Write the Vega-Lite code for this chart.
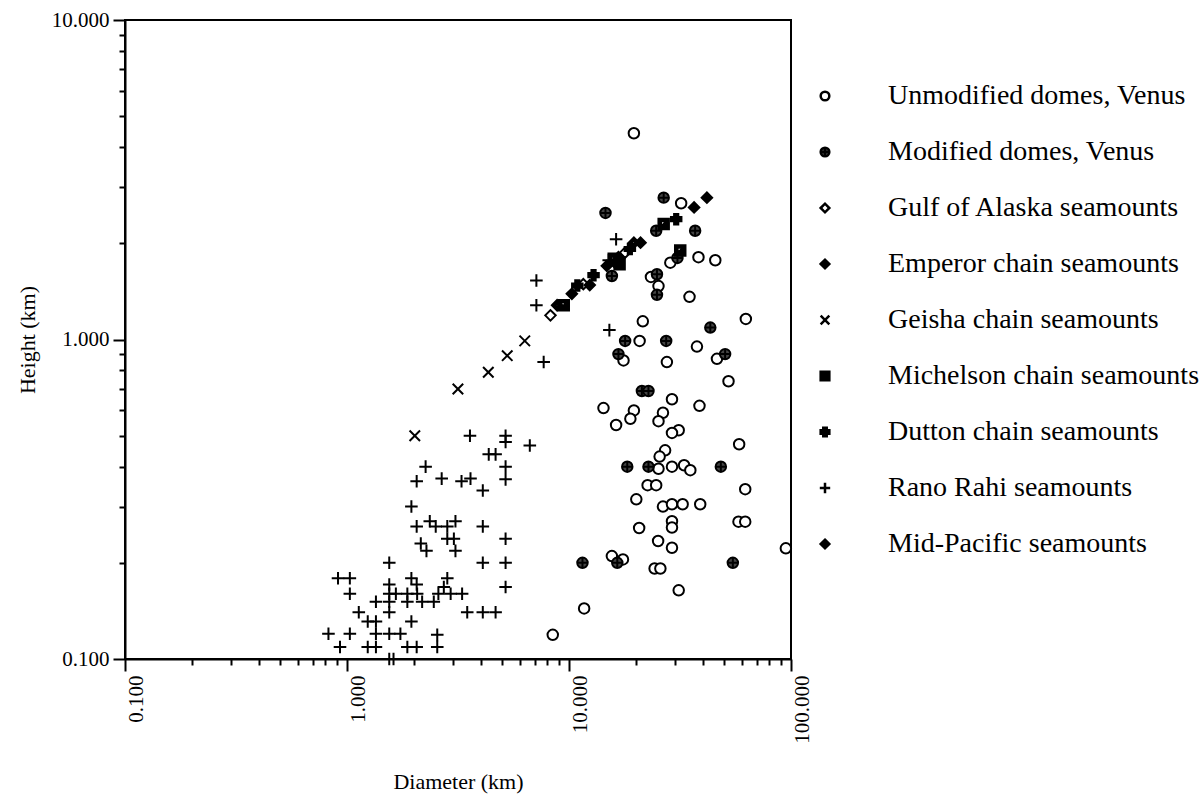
{
  "$schema": "https://vega.github.io/schema/vega-lite/v6.json",
  "width": 666,
  "height": 639,
  "autosize": "none",
  "padding": {"left": 125, "top": 20, "right": 412, "bottom": 142},
  "background": "white",
  "config": {
    "font": "Liberation Serif",
    "view": {"stroke": "black", "strokeWidth": 2},
    "axis": {
      "domainColor": "black", "domainWidth": 2, "tickColor": "black", "tickWidth": 2,
      "labelFont": "Liberation Serif", "labelFontSize": 21, "labelColor": "black",
      "titleFont": "Liberation Serif", "titleFontSize": 22, "titleFontWeight": "normal", "titleColor": "black",
      "grid": false, "labelOverlap": false, "labelFlush": false, "labelBound": false
    },
    "legend": {
      "title": null, "orient": "none", "legendX": 686, "legendY": 62, "padding": 0,
      "labelFont": "Liberation Serif", "labelFontSize": 28, "labelColor": "black",
      "labelOffset": 49, "rowPadding": 28, "symbolSize": 75, "symbolStrokeWidth": 2.5,
      "labelLimit": 500
    }
  },
  "data": {
    "values": [
      {"D": 19.6, "H": 4.42, "type": "Unmodified domes, Venus"},
      {"D": 32.0, "H": 2.67, "type": "Unmodified domes, Venus"},
      {"D": 28.6, "H": 1.74, "type": "Unmodified domes, Venus"},
      {"D": 38.3, "H": 1.81, "type": "Unmodified domes, Venus"},
      {"D": 45.6, "H": 1.77, "type": "Unmodified domes, Venus"},
      {"D": 23.4, "H": 1.57, "type": "Unmodified domes, Venus"},
      {"D": 25.3, "H": 1.47, "type": "Unmodified domes, Venus"},
      {"D": 34.9, "H": 1.36, "type": "Unmodified domes, Venus"},
      {"D": 62.6, "H": 1.16, "type": "Unmodified domes, Venus"},
      {"D": 21.5, "H": 1.14, "type": "Unmodified domes, Venus"},
      {"D": 20.8, "H": 0.99, "type": "Unmodified domes, Venus"},
      {"D": 37.7, "H": 0.95, "type": "Unmodified domes, Venus"},
      {"D": 17.6, "H": 0.86, "type": "Unmodified domes, Venus"},
      {"D": 27.6, "H": 0.85, "type": "Unmodified domes, Venus"},
      {"D": 46.4, "H": 0.87, "type": "Unmodified domes, Venus"},
      {"D": 52.3, "H": 0.74, "type": "Unmodified domes, Venus"},
      {"D": 29.1, "H": 0.65, "type": "Unmodified domes, Venus"},
      {"D": 14.3, "H": 0.61, "type": "Unmodified domes, Venus"},
      {"D": 38.7, "H": 0.62, "type": "Unmodified domes, Venus"},
      {"D": 19.6, "H": 0.60, "type": "Unmodified domes, Venus"},
      {"D": 18.9, "H": 0.565, "type": "Unmodified domes, Venus"},
      {"D": 26.5, "H": 0.59, "type": "Unmodified domes, Venus"},
      {"D": 25.3, "H": 0.555, "type": "Unmodified domes, Venus"},
      {"D": 16.3, "H": 0.54, "type": "Unmodified domes, Venus"},
      {"D": 31.2, "H": 0.52, "type": "Unmodified domes, Venus"},
      {"D": 29.1, "H": 0.51, "type": "Unmodified domes, Venus"},
      {"D": 58.4, "H": 0.47, "type": "Unmodified domes, Venus"},
      {"D": 27.1, "H": 0.45, "type": "Unmodified domes, Venus"},
      {"D": 25.6, "H": 0.43, "type": "Unmodified domes, Venus"},
      {"D": 25.3, "H": 0.394, "type": "Unmodified domes, Venus"},
      {"D": 29.1, "H": 0.40, "type": "Unmodified domes, Venus"},
      {"D": 33.0, "H": 0.404, "type": "Unmodified domes, Venus"},
      {"D": 35.2, "H": 0.39, "type": "Unmodified domes, Venus"},
      {"D": 22.6, "H": 0.35, "type": "Unmodified domes, Venus"},
      {"D": 24.7, "H": 0.35, "type": "Unmodified domes, Venus"},
      {"D": 62.2, "H": 0.34, "type": "Unmodified domes, Venus"},
      {"D": 20.1, "H": 0.316, "type": "Unmodified domes, Venus"},
      {"D": 26.5, "H": 0.30, "type": "Unmodified domes, Venus"},
      {"D": 29.1, "H": 0.305, "type": "Unmodified domes, Venus"},
      {"D": 32.5, "H": 0.305, "type": "Unmodified domes, Venus"},
      {"D": 39.0, "H": 0.305, "type": "Unmodified domes, Venus"},
      {"D": 29.1, "H": 0.27, "type": "Unmodified domes, Venus"},
      {"D": 29.1, "H": 0.258, "type": "Unmodified domes, Venus"},
      {"D": 20.7, "H": 0.257, "type": "Unmodified domes, Venus"},
      {"D": 58.0, "H": 0.269, "type": "Unmodified domes, Venus"},
      {"D": 62.2, "H": 0.269, "type": "Unmodified domes, Venus"},
      {"D": 25.2, "H": 0.234, "type": "Unmodified domes, Venus"},
      {"D": 29.1, "H": 0.223, "type": "Unmodified domes, Venus"},
      {"D": 94.8, "H": 0.222, "type": "Unmodified domes, Venus"},
      {"D": 15.6, "H": 0.21, "type": "Unmodified domes, Venus"},
      {"D": 17.5, "H": 0.205, "type": "Unmodified domes, Venus"},
      {"D": 24.3, "H": 0.192, "type": "Unmodified domes, Venus"},
      {"D": 25.8, "H": 0.192, "type": "Unmodified domes, Venus"},
      {"D": 31.2, "H": 0.164, "type": "Unmodified domes, Venus"},
      {"D": 11.7, "H": 0.144, "type": "Unmodified domes, Venus"},
      {"D": 8.45, "H": 0.119, "type": "Unmodified domes, Venus"},
      {"D": 15.6, "H": 1.58, "type": "Modified domes, Venus"},
      {"D": 14.6, "H": 2.49, "type": "Modified domes, Venus"},
      {"D": 26.7, "H": 2.78, "type": "Modified domes, Venus"},
      {"D": 24.7, "H": 2.19, "type": "Modified domes, Venus"},
      {"D": 37.0, "H": 2.19, "type": "Modified domes, Venus"},
      {"D": 30.8, "H": 1.80, "type": "Modified domes, Venus"},
      {"D": 24.9, "H": 1.60, "type": "Modified domes, Venus"},
      {"D": 24.9, "H": 1.38, "type": "Modified domes, Venus"},
      {"D": 43.3, "H": 1.09, "type": "Modified domes, Venus"},
      {"D": 17.9, "H": 0.99, "type": "Modified domes, Venus"},
      {"D": 27.4, "H": 0.99, "type": "Modified domes, Venus"},
      {"D": 16.7, "H": 0.90, "type": "Modified domes, Venus"},
      {"D": 50.5, "H": 0.90, "type": "Modified domes, Venus"},
      {"D": 21.3, "H": 0.69, "type": "Modified domes, Venus"},
      {"D": 22.8, "H": 0.69, "type": "Modified domes, Venus"},
      {"D": 18.3, "H": 0.40, "type": "Modified domes, Venus"},
      {"D": 22.8, "H": 0.40, "type": "Modified domes, Venus"},
      {"D": 48.3, "H": 0.40, "type": "Modified domes, Venus"},
      {"D": 16.5, "H": 0.20, "type": "Modified domes, Venus"},
      {"D": 11.5, "H": 0.20, "type": "Modified domes, Venus"},
      {"D": 54.7, "H": 0.20, "type": "Modified domes, Venus"},
      {"D": 8.25, "H": 1.19, "type": "Gulf of Alaska seamounts"},
      {"D": 11.6, "H": 1.49, "type": "Gulf of Alaska seamounts"},
      {"D": 17.9, "H": 1.87, "type": "Gulf of Alaska seamounts"},
      {"D": 10.3, "H": 1.39, "type": "Emperor chain seamounts"},
      {"D": 12.4, "H": 1.48, "type": "Emperor chain seamounts"},
      {"D": 16.7, "H": 1.81, "type": "Emperor chain seamounts"},
      {"D": 14.8, "H": 1.70, "type": "Emperor chain seamounts"},
      {"D": 21.0, "H": 2.01, "type": "Emperor chain seamounts"},
      {"D": 36.6, "H": 2.59, "type": "Emperor chain seamounts"},
      {"D": 41.8, "H": 2.78, "type": "Emperor chain seamounts"},
      {"D": 2.02, "H": 0.50, "type": "Geisha chain seamounts"},
      {"D": 3.16, "H": 0.70, "type": "Geisha chain seamounts"},
      {"D": 4.33, "H": 0.79, "type": "Geisha chain seamounts"},
      {"D": 5.27, "H": 0.89, "type": "Geisha chain seamounts"},
      {"D": 6.32, "H": 0.99, "type": "Geisha chain seamounts"},
      {"D": 9.47, "H": 1.28, "type": "Michelson chain seamounts"},
      {"D": 15.9, "H": 1.79, "type": "Michelson chain seamounts"},
      {"D": 16.9, "H": 1.72, "type": "Michelson chain seamounts"},
      {"D": 26.7, "H": 2.30, "type": "Michelson chain seamounts"},
      {"D": 31.7, "H": 1.90, "type": "Michelson chain seamounts"},
      {"D": 10.9, "H": 1.475, "type": "Dutton chain seamounts"},
      {"D": 12.9, "H": 1.59, "type": "Dutton chain seamounts"},
      {"D": 18.8, "H": 1.92, "type": "Dutton chain seamounts"},
      {"D": 30.4, "H": 2.38, "type": "Dutton chain seamounts"},
      {"D": 3.58, "H": 0.50, "type": "Rano Rahi seamounts"},
      {"D": 5.18, "H": 0.50, "type": "Rano Rahi seamounts"},
      {"D": 5.18, "H": 0.478, "type": "Rano Rahi seamounts"},
      {"D": 6.66, "H": 0.466, "type": "Rano Rahi seamounts"},
      {"D": 4.35, "H": 0.437, "type": "Rano Rahi seamounts"},
      {"D": 4.67, "H": 0.437, "type": "Rano Rahi seamounts"},
      {"D": 2.26, "H": 0.40, "type": "Rano Rahi seamounts"},
      {"D": 5.18, "H": 0.40, "type": "Rano Rahi seamounts"},
      {"D": 5.18, "H": 0.365, "type": "Rano Rahi seamounts"},
      {"D": 2.06, "H": 0.36, "type": "Rano Rahi seamounts"},
      {"D": 2.67, "H": 0.367, "type": "Rano Rahi seamounts"},
      {"D": 3.28, "H": 0.36, "type": "Rano Rahi seamounts"},
      {"D": 3.60, "H": 0.367, "type": "Rano Rahi seamounts"},
      {"D": 4.09, "H": 0.337, "type": "Rano Rahi seamounts"},
      {"D": 1.95, "H": 0.30, "type": "Rano Rahi seamounts"},
      {"D": 2.06, "H": 0.26, "type": "Rano Rahi seamounts"},
      {"D": 2.36, "H": 0.27, "type": "Rano Rahi seamounts"},
      {"D": 2.51, "H": 0.26, "type": "Rano Rahi seamounts"},
      {"D": 2.83, "H": 0.26, "type": "Rano Rahi seamounts"},
      {"D": 3.08, "H": 0.27, "type": "Rano Rahi seamounts"},
      {"D": 4.09, "H": 0.26, "type": "Rano Rahi seamounts"},
      {"D": 5.18, "H": 0.238, "type": "Rano Rahi seamounts"},
      {"D": 2.15, "H": 0.23, "type": "Rano Rahi seamounts"},
      {"D": 2.28, "H": 0.218, "type": "Rano Rahi seamounts"},
      {"D": 2.83, "H": 0.238, "type": "Rano Rahi seamounts"},
      {"D": 3.03, "H": 0.238, "type": "Rano Rahi seamounts"},
      {"D": 3.08, "H": 0.218, "type": "Rano Rahi seamounts"},
      {"D": 1.55, "H": 0.20, "type": "Rano Rahi seamounts"},
      {"D": 4.09, "H": 0.20, "type": "Rano Rahi seamounts"},
      {"D": 5.18, "H": 0.20, "type": "Rano Rahi seamounts"},
      {"D": 0.911, "H": 0.179, "type": "Rano Rahi seamounts"},
      {"D": 1.03, "H": 0.179, "type": "Rano Rahi seamounts"},
      {"D": 1.03, "H": 0.16, "type": "Rano Rahi seamounts"},
      {"D": 1.55, "H": 0.171, "type": "Rano Rahi seamounts"},
      {"D": 1.55, "H": 0.16, "type": "Rano Rahi seamounts"},
      {"D": 1.55, "H": 0.151, "type": "Rano Rahi seamounts"},
      {"D": 1.55, "H": 0.14, "type": "Rano Rahi seamounts"},
      {"D": 1.66, "H": 0.16, "type": "Rano Rahi seamounts"},
      {"D": 1.87, "H": 0.16, "type": "Rano Rahi seamounts"},
      {"D": 1.95, "H": 0.179, "type": "Rano Rahi seamounts"},
      {"D": 2.06, "H": 0.171, "type": "Rano Rahi seamounts"},
      {"D": 2.07, "H": 0.16, "type": "Rano Rahi seamounts"},
      {"D": 1.35, "H": 0.151, "type": "Rano Rahi seamounts"},
      {"D": 1.13, "H": 0.14, "type": "Rano Rahi seamounts"},
      {"D": 1.87, "H": 0.151, "type": "Rano Rahi seamounts"},
      {"D": 2.18, "H": 0.151, "type": "Rano Rahi seamounts"},
      {"D": 2.46, "H": 0.151, "type": "Rano Rahi seamounts"},
      {"D": 2.83, "H": 0.179, "type": "Rano Rahi seamounts"},
      {"D": 2.73, "H": 0.168, "type": "Rano Rahi seamounts"},
      {"D": 2.58, "H": 0.16, "type": "Rano Rahi seamounts"},
      {"D": 2.93, "H": 0.16, "type": "Rano Rahi seamounts"},
      {"D": 3.30, "H": 0.16, "type": "Rano Rahi seamounts"},
      {"D": 3.48, "H": 0.14, "type": "Rano Rahi seamounts"},
      {"D": 4.09, "H": 0.14, "type": "Rano Rahi seamounts"},
      {"D": 4.67, "H": 0.14, "type": "Rano Rahi seamounts"},
      {"D": 5.18, "H": 0.168, "type": "Rano Rahi seamounts"},
      {"D": 1.24, "H": 0.131, "type": "Rano Rahi seamounts"},
      {"D": 1.35, "H": 0.131, "type": "Rano Rahi seamounts"},
      {"D": 1.95, "H": 0.131, "type": "Rano Rahi seamounts"},
      {"D": 0.825, "H": 0.12, "type": "Rano Rahi seamounts"},
      {"D": 1.03, "H": 0.12, "type": "Rano Rahi seamounts"},
      {"D": 1.35, "H": 0.12, "type": "Rano Rahi seamounts"},
      {"D": 1.55, "H": 0.12, "type": "Rano Rahi seamounts"},
      {"D": 1.74, "H": 0.12, "type": "Rano Rahi seamounts"},
      {"D": 0.93, "H": 0.109, "type": "Rano Rahi seamounts"},
      {"D": 1.24, "H": 0.109, "type": "Rano Rahi seamounts"},
      {"D": 1.35, "H": 0.109, "type": "Rano Rahi seamounts"},
      {"D": 1.87, "H": 0.109, "type": "Rano Rahi seamounts"},
      {"D": 2.06, "H": 0.109, "type": "Rano Rahi seamounts"},
      {"D": 2.55, "H": 0.119, "type": "Rano Rahi seamounts"},
      {"D": 2.55, "H": 0.109, "type": "Rano Rahi seamounts"},
      {"D": 1.55, "H": 0.10, "type": "Rano Rahi seamounts"},
      {"D": 1.62, "H": 0.10, "type": "Rano Rahi seamounts"},
      {"D": 7.13, "H": 1.53, "type": "Rano Rahi seamounts"},
      {"D": 7.13, "H": 1.28, "type": "Rano Rahi seamounts"},
      {"D": 7.69, "H": 0.85, "type": "Rano Rahi seamounts"},
      {"D": 15.2, "H": 1.07, "type": "Rano Rahi seamounts"},
      {"D": 16.3, "H": 2.06, "type": "Rano Rahi seamounts"},
      {"D": 15.1, "H": 1.77, "type": "Rano Rahi seamounts"},
      {"D": 8.84, "H": 1.28, "type": "Mid-Pacific seamounts"},
      {"D": 19.6, "H": 2.01, "type": "Mid-Pacific seamounts"},
      {"D": 16.1, "H": 1.74, "type": "Mid-Pacific seamounts"}
    ]
  },
  "mark": {"type": "point", "filled": true, "strokeWidth": 2, "size": 110, "opacity": 1},
  "encoding": {
    "x": {
      "field": "D", "type": "quantitative",
      "scale": {"type": "log", "domain": [0.1, 100], "nice": false},
      "title": "Diameter (km)",
      "axis": {
        "values": [0.1,0.2,0.3,0.4,0.5,0.6,0.7,0.8,0.9,1,2,3,4,5,6,7,8,9,10,20,30,40,50,60,70,80,90,100],
        "labelExpr": "abs(log(datum.value)/LN10 - round(log(datum.value)/LN10)) < 0.01 ? format(datum.value, '.3f') : ''",
        "tickSize": {"condition": {"test": "abs(log(datum.value)/LN10 - round(log(datum.value)/LN10)) < 0.01", "value": 12}, "value": 6},
        "labelAngle": 270, "labelAlign": "right", "labelBaseline": "top", "labelPadding": 4,
        "titlePadding": 28
      }
    },
    "y": {
      "field": "H", "type": "quantitative",
      "scale": {"type": "log", "domain": [0.1, 10], "nice": false},
      "title": "Height (km)",
      "axis": {
        "values": [0.1,0.2,0.3,0.4,0.5,0.6,0.7,0.8,0.9,1,2,3,4,5,6,7,8,9,10],
        "labelExpr": "abs(log(datum.value)/LN10 - round(log(datum.value)/LN10)) < 0.01 ? format(datum.value, '.3f') : ''",
        "tickSize": {"condition": {"test": "abs(log(datum.value)/LN10 - round(log(datum.value)/LN10)) < 0.01", "value": 12}, "value": 6},
        "labelPadding": 4,
        "titlePadding": 12
      }
    },
    "shape": {
      "field": "type", "type": "nominal", "title": null,
      "scale": {
        "domain": ["Unmodified domes, Venus", "Modified domes, Venus", "Gulf of Alaska seamounts", "Emperor chain seamounts", "Geisha chain seamounts", "Michelson chain seamounts", "Dutton chain seamounts", "Rano Rahi seamounts", "Mid-Pacific seamounts"],
        "range": [
          "circle",
          "M-1,0A1,1,0,1,1,1,0A1,1,0,1,1,-1,0ZM-1,0L1,0M0,-1L0,1",
          "diamond",
          "diamond",
          "M-1,-1L1,1M-1,1L1,-1",
          "M-1,-1H1V1H-1ZM-0.5,-0.5L-0.5,0.5L0.5,-0.5Z",
          "cross",
          "M-1.2,0L1.2,0M0,-1.2L0,1.2",
          "M0,-1L1,0L0,1L-1,0ZM0,-0.35L-0.35,0L0,0.35L0.35,0Z"
        ]
      }
    },
    "fill": {
      "field": "type", "type": "nominal", "title": null,
      "scale": {
        "domain": ["Unmodified domes, Venus", "Modified domes, Venus", "Gulf of Alaska seamounts", "Emperor chain seamounts", "Geisha chain seamounts", "Michelson chain seamounts", "Dutton chain seamounts", "Rano Rahi seamounts", "Mid-Pacific seamounts"],
        "range": ["white", "#444444", "white", "black", "black", "black", "black", "black", "black"]
      }
    },
    "stroke": {
      "field": "type", "type": "nominal", "title": null,
      "scale": {
        "domain": ["Unmodified domes, Venus", "Modified domes, Venus", "Gulf of Alaska seamounts", "Emperor chain seamounts", "Geisha chain seamounts", "Michelson chain seamounts", "Dutton chain seamounts", "Rano Rahi seamounts", "Mid-Pacific seamounts"],
        "range": ["black", "black", "black", "black", "black", "black", "black", "black", "black"]
      }
    }
  }
}
